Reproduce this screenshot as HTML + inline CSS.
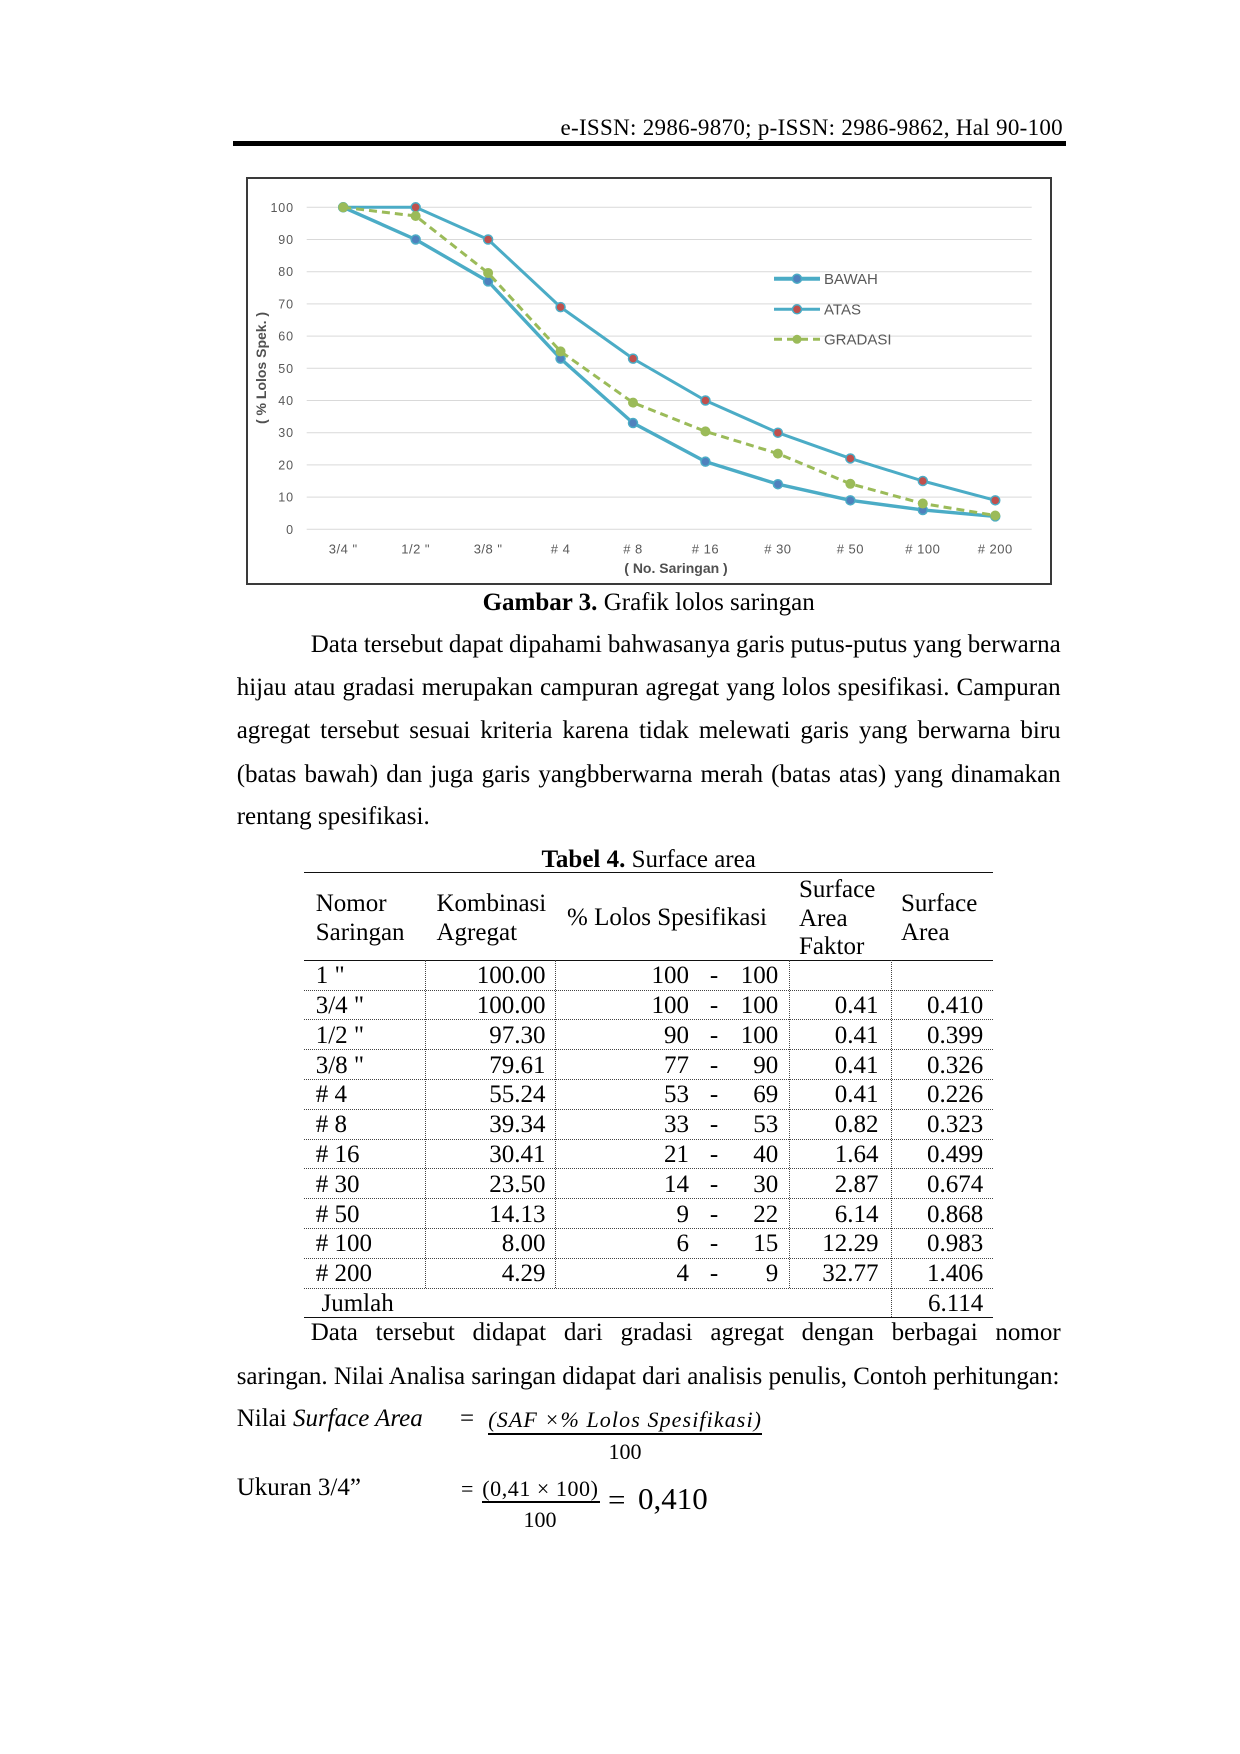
<!DOCTYPE html>
<html>
<head>
<meta charset="utf-8">
<style>
  html,body{margin:0;padding:0;background:#fff;}
  body{width:1240px;height:1754px;position:relative;overflow:hidden;}
  .t{position:absolute;font-family:"Liberation Serif","Times New Roman",serif;font-size:25px;line-height:30px;white-space:nowrap;color:#000;margin-top:1.5px;}
  .j{width:824px;text-align:justify;text-align-last:justify;white-space:normal;word-spacing:-1px;}
  .hl{position:absolute;height:0;border-top:1px dotted #444;}
  .hs{position:absolute;height:1px;background:#111;}
  .vl{position:absolute;width:0;border-left:1px dotted #444;}
  .r{position:absolute;font-family:"Liberation Serif","Times New Roman",serif;font-size:25px;line-height:29.8px;height:29.8px;white-space:nowrap;color:#000;margin-top:1.2px;}
  .ra{text-align:right;}
  .ca{text-align:center;}
  .hd{position:absolute;font-family:"Liberation Serif","Times New Roman",serif;font-size:25px;line-height:28.75px;white-space:nowrap;color:#000;margin-top:1.2px;}
</style>
</head>
<body>

<!-- Header -->
<div class="t" style="right:177px;top:111px;font-size:23px;letter-spacing:0.3px;">e-ISSN: 2986-9870; p-ISSN: 2986-9862, Hal 90-100</div>
<div style="position:absolute;left:233px;top:141px;width:833px;height:5px;background:#000;"></div>

<!-- Chart box -->
<div style="position:absolute;left:246px;top:177px;width:806px;height:408px;border:2px solid #3a3a3a;box-sizing:border-box;"></div>

<svg style="position:absolute;left:0;top:0;" width="1240" height="600" xmlns="http://www.w3.org/2000/svg">
  <g stroke="#D9D9D9" stroke-width="1">
    <line x1="306.7" y1="207.3" x2="1031.7" y2="207.3"/>
    <line x1="306.7" y1="239.5" x2="1031.7" y2="239.5"/>
    <line x1="306.7" y1="271.7" x2="1031.7" y2="271.7"/>
    <line x1="306.7" y1="303.9" x2="1031.7" y2="303.9"/>
    <line x1="306.7" y1="336.1" x2="1031.7" y2="336.1"/>
    <line x1="306.7" y1="368.3" x2="1031.7" y2="368.3"/>
    <line x1="306.7" y1="400.5" x2="1031.7" y2="400.5"/>
    <line x1="306.7" y1="432.7" x2="1031.7" y2="432.7"/>
    <line x1="306.7" y1="464.9" x2="1031.7" y2="464.9"/>
    <line x1="306.7" y1="497.1" x2="1031.7" y2="497.1"/>
    <line x1="306.7" y1="529.3" x2="1031.7" y2="529.3"/>
  </g>
  <g font-family="Liberation Sans, Arial, sans-serif" font-size="12.5" fill="#595959" text-anchor="end" letter-spacing="0.9">
    <text x="294" y="211.8">100</text>
    <text x="294" y="244">90</text>
    <text x="294" y="276.2">80</text>
    <text x="294" y="308.4">70</text>
    <text x="294" y="340.6">60</text>
    <text x="294" y="372.8">50</text>
    <text x="294" y="405">40</text>
    <text x="294" y="437.2">30</text>
    <text x="294" y="469.4">20</text>
    <text x="294" y="501.6">10</text>
    <text x="294" y="533.8">0</text>
  </g>
  <g font-family="Liberation Sans, Arial, sans-serif" font-size="13" fill="#595959" text-anchor="middle" letter-spacing="0.5">
    <text x="343.2" y="553.5">3/4 "</text>
    <text x="415.65" y="553.5">1/2 "</text>
    <text x="488.1" y="553.5">3/8 "</text>
    <text x="560.55" y="553.5"># 4</text>
    <text x="633" y="553.5"># 8</text>
    <text x="705.45" y="553.5"># 16</text>
    <text x="777.9" y="553.5"># 30</text>
    <text x="850.35" y="553.5"># 50</text>
    <text x="922.8" y="553.5"># 100</text>
    <text x="995.25" y="553.5"># 200</text>
  </g>
  <text x="676" y="573" font-family="Liberation Sans, Arial, sans-serif" font-size="14" font-weight="bold" fill="#505050" text-anchor="middle">( No. Saringan )</text>
  <text transform="translate(266,368) rotate(-90)" font-family="Liberation Sans, Arial, sans-serif" font-size="14" font-weight="bold" fill="#505050" text-anchor="middle">( % Lolos Spek. )</text>

  <!-- BAWAH -->
  <polyline fill="none" stroke="#4BACC6" stroke-width="3.4" stroke-linejoin="round" points="343.2,207.3 415.65,239.5 488.1,281.36 560.55,358.64 633,423.04 705.45,461.68 777.9,484.22 850.35,500.32 922.8,509.98 995.25,516.42"/>
  <g fill="#4F81BD" stroke="#4BACC6" stroke-width="1.5">
    <circle cx="343.2" cy="207.3" r="4.5"/><circle cx="415.65" cy="239.5" r="4.5"/><circle cx="488.1" cy="281.36" r="4.5"/><circle cx="560.55" cy="358.64" r="4.5"/><circle cx="633" cy="423.04" r="4.5"/><circle cx="705.45" cy="461.68" r="4.5"/><circle cx="777.9" cy="484.22" r="4.5"/><circle cx="850.35" cy="500.32" r="4.5"/><circle cx="922.8" cy="509.98" r="4.5"/><circle cx="995.25" cy="516.42" r="4.5"/>
  </g>
  <!-- ATAS -->
  <polyline fill="none" stroke="#4BACC6" stroke-width="3" stroke-linejoin="round" points="343.2,207.3 415.65,207.3 488.1,239.5 560.55,307.12 633,358.64 705.45,400.5 777.9,432.7 850.35,458.46 922.8,481 995.25,500.32"/>
  <g fill="#C0504D" stroke="#4BACC6" stroke-width="1.5">
    <circle cx="343.2" cy="207.3" r="4.5"/><circle cx="415.65" cy="207.3" r="4.5"/><circle cx="488.1" cy="239.5" r="4.5"/><circle cx="560.55" cy="307.12" r="4.5"/><circle cx="633" cy="358.64" r="4.5"/><circle cx="705.45" cy="400.5" r="4.5"/><circle cx="777.9" cy="432.7" r="4.5"/><circle cx="850.35" cy="458.46" r="4.5"/><circle cx="922.8" cy="481" r="4.5"/><circle cx="995.25" cy="500.32" r="4.5"/>
  </g>
  <!-- GRADASI -->
  <polyline fill="none" stroke="#9BBB59" stroke-width="3" stroke-dasharray="8,5" stroke-linejoin="round" points="343.2,207.3 415.65,216 488.1,272.95 560.55,351.43 633,402.63 705.45,431.38 777.9,453.63 850.35,483.8 922.8,503.54 995.25,515.49"/>
  <g fill="#9BBB59" stroke="#9BBB59" stroke-width="1">
    <circle cx="343.2" cy="207.3" r="4.5"/><circle cx="415.65" cy="216" r="4.5"/><circle cx="488.1" cy="272.95" r="4.5"/><circle cx="560.55" cy="351.43" r="4.5"/><circle cx="633" cy="402.63" r="4.5"/><circle cx="705.45" cy="431.38" r="4.5"/><circle cx="777.9" cy="453.63" r="4.5"/><circle cx="850.35" cy="483.8" r="4.5"/><circle cx="922.8" cy="503.54" r="4.5"/><circle cx="995.25" cy="515.49" r="4.5"/>
  </g>

  <!-- Legend -->
  <line x1="774" y1="278.7" x2="820" y2="278.7" stroke="#4BACC6" stroke-width="4"/>
  <circle cx="797" cy="278.7" r="4.5" fill="#4F81BD" stroke="#4BACC6" stroke-width="1.5"/>
  <line x1="774" y1="309.3" x2="820" y2="309.3" stroke="#4BACC6" stroke-width="3"/>
  <circle cx="797" cy="309.3" r="4.5" fill="#C0504D" stroke="#4BACC6" stroke-width="1.5"/>
  <line x1="774" y1="339.3" x2="820" y2="339.3" stroke="#9BBB59" stroke-width="3" stroke-dasharray="8,5"/>
  <circle cx="797" cy="339.3" r="4.5" fill="#9BBB59"/>
  <g font-family="Liberation Sans, Arial, sans-serif" font-size="15" fill="#595959">
    <text x="824" y="284">BAWAH</text>
    <text x="824" y="314.6">ATAS</text>
    <text x="824" y="344.6">GRADASI</text>
  </g>
</svg>

<!-- Caption -->
<div class="t ca" style="left:236.7px;top:586.6px;width:824px;"><b>Gambar 3.</b> Grafik lolos saringan</div>

<!-- Paragraph -->
<div class="t j" style="left:236.7px;top:628.3px;text-indent:74px;">Data tersebut dapat dipahami bahwasanya garis putus-putus yang berwarna</div>
<div class="t j" style="left:236.7px;top:671.6px;">hijau atau gradasi merupakan campuran agregat yang lolos spesifikasi. Campuran</div>
<div class="t j" style="left:236.7px;top:714.6px;">agregat tersebut sesuai kriteria karena tidak melewati garis yang berwarna biru</div>
<div class="t j" style="left:236.7px;top:758.3px;">(batas bawah) dan juga garis yangbberwarna merah (batas atas) yang dinamakan</div>
<div class="t" style="left:236.7px;top:800.6px;">rentang spesifikasi.</div>

<!-- Table title -->
<div class="t ca" style="left:236.7px;top:843.6px;width:824px;"><b>Tabel 4.</b> Surface area</div>

<!-- Table lines -->
<div class="hs" style="left:304px;top:872px;width:689px;"></div>
<div class="hs" style="left:304px;top:959.5px;width:689px;"></div>
<div class="hl" style="left:304px;top:989.5px;width:689px;"></div>
<div class="hl" style="left:304px;top:1019.3px;width:689px;"></div>
<div class="hl" style="left:304px;top:1049.1px;width:689px;"></div>
<div class="hl" style="left:304px;top:1078.9px;width:689px;"></div>
<div class="hl" style="left:304px;top:1108.7px;width:689px;"></div>
<div class="hl" style="left:304px;top:1138.5px;width:689px;"></div>
<div class="hl" style="left:304px;top:1168.3px;width:689px;"></div>
<div class="hl" style="left:304px;top:1198.1px;width:689px;"></div>
<div class="hl" style="left:304px;top:1227.9px;width:689px;"></div>
<div class="hl" style="left:304px;top:1257.7px;width:689px;"></div>
<div class="hl" style="left:304px;top:1287.5px;width:689px;"></div>
<div class="hs" style="left:304px;top:1317px;width:689px;"></div>
<div class="vl" style="left:425px;top:960px;height:328px;"></div>
<div class="vl" style="left:555px;top:960px;height:328px;"></div>
<div class="vl" style="left:788.5px;top:960px;height:328px;"></div>
<div class="vl" style="left:890.5px;top:960px;height:357px;"></div>

<!-- Table header -->
<div class="hd" style="left:315.7px;top:888.7px;">Nomor<br>Saringan</div>
<div class="hd" style="left:436.5px;top:888.7px;">Kombinasi<br>Agregat</div>
<div class="hd" style="left:567px;top:902.7px;">% Lolos Spesifikasi</div>
<div class="hd" style="left:799px;top:874.7px;">Surface<br>Area<br>Faktor</div>
<div class="hd" style="left:901px;top:888.7px;">Surface<br>Area</div>

<!-- Table rows -->
<div class="r" style="left:315.7px;top:960px;">1 "</div>
<div class="r ra" style="left:425.5px;top:960px;width:120px;">100.00</div>
<div class="r ra" style="left:555.5px;top:960px;width:133.5px;">100</div>
<div class="r ca" style="left:704px;top:960px;width:20px;">-</div>
<div class="r ra" style="left:680px;top:960px;width:98.3px;">100</div>

<div class="r" style="left:315.7px;top:989.8px;">3/4 "</div>
<div class="r ra" style="left:425.5px;top:989.8px;width:120px;">100.00</div>
<div class="r ra" style="left:555.5px;top:989.8px;width:133.5px;">100</div>
<div class="r ca" style="left:704px;top:989.8px;width:20px;">-</div>
<div class="r ra" style="left:680px;top:989.8px;width:98.3px;">100</div>
<div class="r ra" style="left:789px;top:989.8px;width:89.5px;">0.41</div>
<div class="r ra" style="left:891px;top:989.8px;width:92.3px;">0.410</div>

<div class="r" style="left:315.7px;top:1019.6px;">1/2 "</div>
<div class="r ra" style="left:425.5px;top:1019.6px;width:120px;">97.30</div>
<div class="r ra" style="left:555.5px;top:1019.6px;width:133.5px;">90</div>
<div class="r ca" style="left:704px;top:1019.6px;width:20px;">-</div>
<div class="r ra" style="left:680px;top:1019.6px;width:98.3px;">100</div>
<div class="r ra" style="left:789px;top:1019.6px;width:89.5px;">0.41</div>
<div class="r ra" style="left:891px;top:1019.6px;width:92.3px;">0.399</div>

<div class="r" style="left:315.7px;top:1049.4px;">3/8 "</div>
<div class="r ra" style="left:425.5px;top:1049.4px;width:120px;">79.61</div>
<div class="r ra" style="left:555.5px;top:1049.4px;width:133.5px;">77</div>
<div class="r ca" style="left:704px;top:1049.4px;width:20px;">-</div>
<div class="r ra" style="left:680px;top:1049.4px;width:98.3px;">90</div>
<div class="r ra" style="left:789px;top:1049.4px;width:89.5px;">0.41</div>
<div class="r ra" style="left:891px;top:1049.4px;width:92.3px;">0.326</div>

<div class="r" style="left:315.7px;top:1079.2px;"># 4</div>
<div class="r ra" style="left:425.5px;top:1079.2px;width:120px;">55.24</div>
<div class="r ra" style="left:555.5px;top:1079.2px;width:133.5px;">53</div>
<div class="r ca" style="left:704px;top:1079.2px;width:20px;">-</div>
<div class="r ra" style="left:680px;top:1079.2px;width:98.3px;">69</div>
<div class="r ra" style="left:789px;top:1079.2px;width:89.5px;">0.41</div>
<div class="r ra" style="left:891px;top:1079.2px;width:92.3px;">0.226</div>

<div class="r" style="left:315.7px;top:1109px;"># 8</div>
<div class="r ra" style="left:425.5px;top:1109px;width:120px;">39.34</div>
<div class="r ra" style="left:555.5px;top:1109px;width:133.5px;">33</div>
<div class="r ca" style="left:704px;top:1109px;width:20px;">-</div>
<div class="r ra" style="left:680px;top:1109px;width:98.3px;">53</div>
<div class="r ra" style="left:789px;top:1109px;width:89.5px;">0.82</div>
<div class="r ra" style="left:891px;top:1109px;width:92.3px;">0.323</div>

<div class="r" style="left:315.7px;top:1138.8px;"># 16</div>
<div class="r ra" style="left:425.5px;top:1138.8px;width:120px;">30.41</div>
<div class="r ra" style="left:555.5px;top:1138.8px;width:133.5px;">21</div>
<div class="r ca" style="left:704px;top:1138.8px;width:20px;">-</div>
<div class="r ra" style="left:680px;top:1138.8px;width:98.3px;">40</div>
<div class="r ra" style="left:789px;top:1138.8px;width:89.5px;">1.64</div>
<div class="r ra" style="left:891px;top:1138.8px;width:92.3px;">0.499</div>

<div class="r" style="left:315.7px;top:1168.6px;"># 30</div>
<div class="r ra" style="left:425.5px;top:1168.6px;width:120px;">23.50</div>
<div class="r ra" style="left:555.5px;top:1168.6px;width:133.5px;">14</div>
<div class="r ca" style="left:704px;top:1168.6px;width:20px;">-</div>
<div class="r ra" style="left:680px;top:1168.6px;width:98.3px;">30</div>
<div class="r ra" style="left:789px;top:1168.6px;width:89.5px;">2.87</div>
<div class="r ra" style="left:891px;top:1168.6px;width:92.3px;">0.674</div>

<div class="r" style="left:315.7px;top:1198.4px;"># 50</div>
<div class="r ra" style="left:425.5px;top:1198.4px;width:120px;">14.13</div>
<div class="r ra" style="left:555.5px;top:1198.4px;width:133.5px;">9</div>
<div class="r ca" style="left:704px;top:1198.4px;width:20px;">-</div>
<div class="r ra" style="left:680px;top:1198.4px;width:98.3px;">22</div>
<div class="r ra" style="left:789px;top:1198.4px;width:89.5px;">6.14</div>
<div class="r ra" style="left:891px;top:1198.4px;width:92.3px;">0.868</div>

<div class="r" style="left:315.7px;top:1228.2px;"># 100</div>
<div class="r ra" style="left:425.5px;top:1228.2px;width:120px;">8.00</div>
<div class="r ra" style="left:555.5px;top:1228.2px;width:133.5px;">6</div>
<div class="r ca" style="left:704px;top:1228.2px;width:20px;">-</div>
<div class="r ra" style="left:680px;top:1228.2px;width:98.3px;">15</div>
<div class="r ra" style="left:789px;top:1228.2px;width:89.5px;">12.29</div>
<div class="r ra" style="left:891px;top:1228.2px;width:92.3px;">0.983</div>

<div class="r" style="left:315.7px;top:1258px;"># 200</div>
<div class="r ra" style="left:425.5px;top:1258px;width:120px;">4.29</div>
<div class="r ra" style="left:555.5px;top:1258px;width:133.5px;">4</div>
<div class="r ca" style="left:704px;top:1258px;width:20px;">-</div>
<div class="r ra" style="left:680px;top:1258px;width:98.3px;">9</div>
<div class="r ra" style="left:789px;top:1258px;width:89.5px;">32.77</div>
<div class="r ra" style="left:891px;top:1258px;width:92.3px;">1.406</div>

<div class="r" style="left:321.5px;top:1287.8px;">Jumlah</div>
<div class="r ra" style="left:891px;top:1287.8px;width:92.3px;">6.114</div>

<!-- Second paragraph -->
<div class="t j" style="left:236.7px;top:1316.6px;text-indent:74px;">Data tersebut didapat dari gradasi agregat dengan berbagai nomor</div>
<div class="t" style="left:236.7px;top:1360.6px;">saringan. Nilai Analisa saringan didapat dari analisis penulis, Contoh perhitungan:</div>

<!-- Formula 1 -->
<div class="t" style="left:236.7px;top:1402.6px;">Nilai <i>Surface Area</i></div>
<div class="t" style="left:460px;top:1402.6px;">=</div>
<div class="t" style="left:488.3px;top:1403.6px;font-size:22px;font-style:italic;letter-spacing:1.1px;">(SAF ×% Lolos Spesifikasi)</div>
<div style="position:absolute;left:488px;top:1432.5px;width:274px;height:2px;background:#000;"></div>
<div class="t ca" style="left:600px;top:1435.6px;width:50px;font-size:22px;">100</div>

<!-- Formula 2 -->
<div class="t" style="left:236.7px;top:1471.6px;">Ukuran 3/4”</div>
<div class="t" style="left:461px;top:1472.6px;font-size:22px;">=</div>
<div class="t" style="left:482.3px;top:1472.6px;font-size:22px;letter-spacing:0.55px;">(0,41 × 100)</div>
<div style="position:absolute;left:481.7px;top:1501px;width:118.3px;height:1.5px;background:#000;"></div>
<div class="t ca" style="left:515px;top:1503.3px;width:50px;font-size:22px;">100</div>
<div class="t" style="left:608px;top:1480px;font-size:31px;line-height:36px;">=</div>
<div class="t" style="left:638px;top:1479.5px;font-size:31px;line-height:36px;">0,410</div>

</body>
</html>
